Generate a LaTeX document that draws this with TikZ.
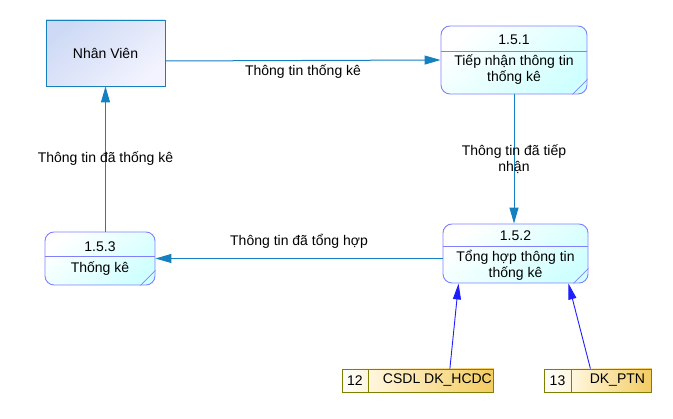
\documentclass[tikz,border=0pt]{standalone}
\usepackage{fontspec}
\setmainfont{Liberation Sans}
\usetikzlibrary{arrows.meta,positioning}

\definecolor{flowblue}{RGB}{20,128,192}
\definecolor{procline}{RGB}{128,128,255}
\definecolor{procfill}{RGB}{208,255,255}
\definecolor{entfillA}{RGB}{206,218,245}
\definecolor{entfillB}{RGB}{242,243,254}
\definecolor{storeline}{RGB}{128,128,0}
\definecolor{storepale}{RGB}{255,246,222}
\definecolor{storegold}{RGB}{243,204,96}
\definecolor{storeblue}{RGB}{30,30,255}

\tikzset{
  entity/.style={rectangle,draw=flowblue,line width=0.9pt,top color=entfillA,bottom color=entfillB,shading angle=40,minimum width=119pt,minimum height=66pt},
  proc/.style={rectangle,rounded corners=9pt,draw=procline,line width=0.9pt,top color=white,bottom color=procfill,shading angle=40},
  storeid/.style={rectangle,draw=storeline,line width=0.9pt,left color=white,right color=storepale,minimum width=26pt,minimum height=23pt,inner sep=0pt},
  storename/.style={rectangle,draw=storeline,line width=0.9pt,left color=storepale,right color=storegold,minimum height=23pt,inner sep=0pt},
  flow/.style={draw=flowblue,line width=1pt,-{Triangle[length=16pt,width=9pt]}},
  feed/.style={draw=storeblue,line width=0.9pt,-{Triangle[length=16pt,width=8pt]}}
}

\begin{document}
\begin{tikzpicture}[x=1pt,y=-1pt,font=\fontsize{14}{16}\selectfont]
\useasboundingbox (0,0) rectangle (673,419);

% external entity
\path (105.5,53) node[entity] (nv) {Nhân Viên};

% process 1.5.1
\path (514,60) node[proc,minimum width=146pt,minimum height=68pt] (p151) {};
\draw[procline,line width=0.9pt] ([yshift=-25.7pt]p151.north west) -- ([yshift=-25.7pt]p151.north east);
\draw[procline,line width=0.7pt] ([xshift=-15pt]p151.south east) -- ([yshift=15pt]p151.south east);
\path (514,40) node (p151id) {1.5.1};
\path (514,70) node[align=center] (p151tx) {Tiếp nhận thông tin\\thống kê};

% process 1.5.2
\path (515.5,253.5) node[proc,minimum width=145pt,minimum height=59pt] (p152) {};
\draw[procline,line width=0.9pt] ([yshift=-23pt]p152.north west) -- ([yshift=-23pt]p152.north east);
\draw[procline,line width=0.7pt] ([xshift=-15pt]p152.south east) -- ([yshift=15pt]p152.south east);
\path (515.5,235.5) node (p152id) {1.5.2};
\path (515.5,265) node[align=center] (p152tx) {Tổng hợp thông tin\\thống kê};

% process 1.5.3
\path (100,258.5) node[proc,minimum width=110pt,minimum height=53pt] (p153) {};
\draw[procline,line width=0.9pt] ([yshift=-25pt]p153.north west) -- ([yshift=-25pt]p153.north east);
\draw[procline,line width=0.7pt] ([xshift=-15pt]p153.south east) -- ([yshift=15pt]p153.south east);
\path (100,246.5) node (p153id) {1.5.3};
\path (100,268.5) node (p153tx) {Thống kê};

% data stores
\path (355,380.5) node[storeid] (s12id) {12};
\node[storename,minimum width=125pt,right=0pt of s12id] (s12) {\hspace*{12pt}CSDL DK\_HCDC};
\path (557.5,380.5) node[storeid,minimum width=27pt] (s13id) {13};
\node[storename,minimum width=80pt,right=0pt of s13id] (s13) {\hspace*{11pt}DK\_PTN};

% flows
\draw[flow] ([yshift=-8pt]nv.east) -- node[below]{Thông tin thống kê} (p151.west);
\draw[flow] (p151.south) -- node[align=center]{Thông tin đã tiếp\\nhận} (p151.south |- p152.north);
\draw[flow] (p152.west |- p153.east) -- node[above=6pt]{Thông tin đã tổng hợp} (p153.east);
\draw[flow] (nv.south |- p153.north) -- node{Thông tin đã thống kê} (nv.south);
\draw[feed] ([xshift=18.5pt]s12.north) -- ([xshift=16pt]p152.south west);
\draw[feed] ([xshift=-21.5pt]s13.north) -- ([xshift=-20pt]p152.south east);
\end{tikzpicture}
\end{document}
